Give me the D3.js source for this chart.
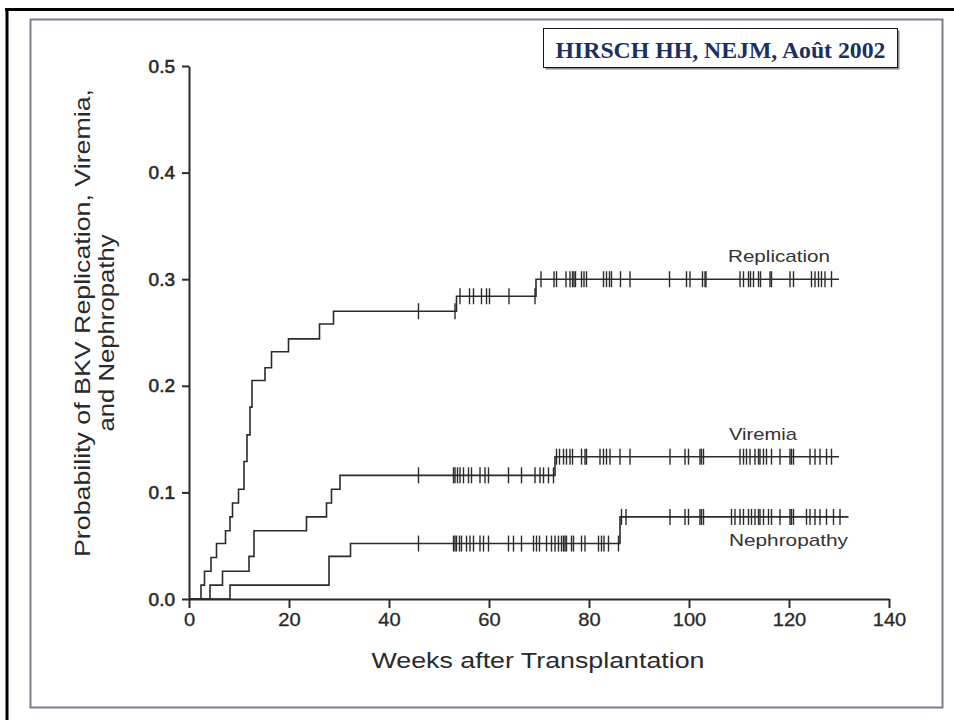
<!DOCTYPE html>
<html>
<head>
<meta charset="utf-8">
<script src="https://cdn.jsdelivr.net/npm/d3@7"></script>
<style>
  html, body { margin: 0; padding: 0; background: #fff; }
  svg { display: block; }
</style>
</head>
<body>
<svg id="chart" width="954" height="720"></svg>
<script>
// ---------- DATA ----------
const xTicks = [0, 20, 40, 60, 80, 100, 120, 140];
const yTicks = [0.0, 0.1, 0.2, 0.3, 0.4, 0.5];

// Kaplan-Meier steps: [week, cumulative probability after the event]
const replicationSteps = [[2.4,0.013],[3.1,0.026],[4.4,0.039],[5.5,0.052],[7.3,0.064],[8.2,0.077],[8.7,0.090],[9.9,0.103],[11.0,0.129],[11.6,0.154],[12.2,0.180],[12.6,0.205],[15.2,0.217],[16.5,0.232],[19.9,0.244],[26.1,0.258],[28.9,0.270],[53.5,0.284],[69.4,0.300]];
const replicationEnd = 130;
const replicationCensored = [45.9,53.2,54.2,56.1,56.9,58.5,59.5,60.1,64.0,69.2,70.4,73.0,73.5,75.4,76.2,76.7,77.0,77.3,78.5,79.0,79.5,82.9,83.5,84.1,84.5,86.3,88.2,96.1,99.5,100.2,102.7,103.2,103.4,110.2,110.9,111.9,112.3,112.9,113.9,114.3,116.2,116.5,120.2,120.9,124.5,125.2,125.9,126.5,127.2,128.5];

const viremiaSteps = [[4.2,0.013],[6.7,0.026],[12.0,0.040],[13.0,0.064],[23.5,0.077],[27.5,0.090],[28.5,0.103],[30.2,0.116],[73.2,0.1335]];
const viremiaEnd = 130;
const viremiaCensored = [45.9,52.9,53.2,53.7,54.2,54.9,55.9,56.5,58.2,59.2,59.9,63.9,66.5,69.2,70.2,70.9,71.9,72.9,73.5,74.1,74.9,75.5,76.2,76.7,78.5,79.2,79.5,82.2,82.9,83.5,84.2,86.2,88.2,96.2,99.2,99.9,102.2,102.5,102.9,110.2,110.9,111.5,112.2,113.2,113.9,114.2,114.9,115.5,116.5,118.2,120.2,120.5,120.9,124.2,125.2,126.2,127.5,128.5];

const nephropathySteps = [[8.2,0.013],[28.0,0.040],[32.3,0.052],[86.2,0.077]];
const nephropathyEnd = 131.9;
const nephropathyCensored = [45.9,52.9,53.2,53.5,54.1,54.5,55.5,56.2,56.9,58.2,58.9,59.9,63.9,64.9,66.5,68.9,69.5,70.1,71.5,72.5,73.2,73.9,74.5,74.9,75.2,75.5,76.5,76.9,78.5,79.2,81.9,82.5,83.0,83.9,85.9,86.5,87.4,96.2,99.2,99.9,102.2,102.5,102.9,108.5,109.2,110.2,110.9,111.9,112.5,113.2,113.9,114.2,114.9,115.9,116.5,118.2,120.2,120.5,120.9,123.5,124.2,125.2,126.2,127.5,128.9,130.2];

const seriesNames = ["Replication", "Viremia", "Nephropathy"];

// ---------- CHART ----------
const svg = d3.select("#chart");
svg.append("rect").attr("width", 954).attr("height", 720).attr("fill", "#fff");

// slide frame
svg.append("line").attr("x1", 5).attr("x2", 954).attr("y1", 9.5).attr("y2", 9.5)
  .attr("stroke", "#000").attr("stroke-width", 3);
svg.append("line").attr("x1", 7).attr("x2", 7).attr("y1", 8).attr("y2", 720)
  .attr("stroke", "#000").attr("stroke-width", 3);
svg.append("rect").attr("x", 30.5).attr("y", 19.5).attr("width", 912).attr("height", 688)
  .attr("fill", "none").attr("stroke", "#7c7c8c").attr("stroke-width", 2);

// citation box
svg.append("rect").attr("x", 545.5).attr("y", 30.5).attr("width", 354).attr("height", 39)
  .attr("fill", "#8a8a8a");
svg.append("rect").attr("x", 543.5).attr("y", 28.5).attr("width", 354).attr("height", 39)
  .attr("fill", "#fff").attr("stroke", "#14142a").attr("stroke-width", 1);
svg.append("text").attr("x", 720.5).attr("y", 58)
  .attr("text-anchor", "middle")
  .attr("font-family", "'Liberation Serif','Times New Roman',serif")
  .attr("font-weight", "bold").attr("font-size", 24)
  .attr("fill", "#1b2f63")
  .attr("textLength", 330).attr("lengthAdjust", "spacingAndGlyphs")
  .text("HIRSCH HH, NEJM, Août 2002");

const x = d3.scaleLinear().domain([0, 140]).range([189, 889]);
const y = d3.scaleLinear().domain([0, 0.5]).range([599, 66]);

const ink = "#2b2b2b";
const font = "'Liberation Sans', Arial, Helvetica, sans-serif";

// axes
const xAxis = svg.append("g").attr("transform", "translate(0,599)")
  .call(d3.axisBottom(x).tickValues(xTicks).tickFormat(d3.format("d"))
    .tickSize(9).tickSizeOuter(0).tickPadding(5));
const yAxis = svg.append("g").attr("transform", "translate(189,0)")
  .call(d3.axisLeft(y).tickValues(yTicks).tickFormat(d3.format(".1f"))
    .tickSize(7).tickSizeOuter(0).tickPadding(7));

[xAxis, yAxis].forEach(g => {
  g.select(".domain").attr("stroke", ink).attr("stroke-width", 2);
  g.selectAll(".tick line").attr("stroke", ink).attr("stroke-width", 2);
  g.selectAll(".tick text").attr("fill", "#2a2a2a").attr("font-family", font).attr("font-size", 18)
    .attr("stroke", "#2a2a2a").attr("stroke-width", 0.3);
});
xAxis.selectAll(".tick text").attr("transform", "scale(1.12,1)");
yAxis.selectAll(".tick text").attr("font-size", 19).attr("stroke-width", 0.6);

// axis titles
svg.append("text").attr("x", 538).attr("y", 668)
  .attr("text-anchor", "middle").attr("font-family", font).attr("font-size", 22)
  .attr("fill", "#2a2a2a").attr("textLength", 333).attr("lengthAdjust", "spacingAndGlyphs")
  .text("Weeks after Transplantation");

const yTitle = svg.append("g").attr("transform", "translate(0,323) rotate(-90)");
yTitle.append("text").attr("x", 0).attr("y", 90)
  .attr("text-anchor", "middle").attr("font-family", font).attr("font-size", 22)
  .attr("fill", "#2a2a2a").attr("textLength", 468).attr("lengthAdjust", "spacingAndGlyphs")
  .text("Probability of BKV Replication, Viremia,");
yTitle.append("text").attr("x", -10).attr("y", 114)
  .attr("text-anchor", "middle").attr("font-family", font).attr("font-size", 22)
  .attr("fill", "#2a2a2a").attr("textLength", 197).attr("lengthAdjust", "spacingAndGlyphs")
  .text("and Nephropathy");

// curves
const series = [
  { name: seriesNames[0], steps: replicationSteps, end: replicationEnd, cens: replicationCensored, lx: 107.8, ly: 0.316, len: 102 },
  { name: seriesNames[1], steps: viremiaSteps, end: viremiaEnd, cens: viremiaCensored, lx: 108.0, ly: 0.149, len: 68 },
  { name: seriesNames[2], steps: nephropathySteps, end: nephropathyEnd, cens: nephropathyCensored, lx: 108.0, ly: 0.0497, len: 119 }
];

const line = d3.line().x(d => x(d[0])).y(d => y(d[1])).curve(d3.curveStepAfter);

function levelAt(steps, w) {
  let v = 0;
  for (const s of steps) { if (s[0] <= w) v = s[1]; }
  return v;
}

series.forEach(s => {
  const pts = [[0, 0], ...s.steps, [s.end, s.steps[s.steps.length - 1][1]]];
  svg.append("path").datum(pts).attr("d", line)
    .attr("fill", "none").attr("stroke", ink).attr("stroke-width", 1.6);
  svg.append("g").selectAll("line").data(s.cens).join("line")
    .attr("x1", d => x(d)).attr("x2", d => x(d))
    .attr("y1", d => y(levelAt(s.steps, d)) - 8)
    .attr("y2", d => y(levelAt(s.steps, d)) + 8)
    .attr("stroke", ink).attr("stroke-width", 1.4);
  svg.append("text").attr("x", x(s.lx)).attr("y", y(s.ly))
    .attr("font-family", font).attr("font-size", 17).attr("fill", "#333")
    .attr("textLength", s.len).attr("lengthAdjust", "spacingAndGlyphs")
    .text(s.name);
});
</script>
</body>
</html>
